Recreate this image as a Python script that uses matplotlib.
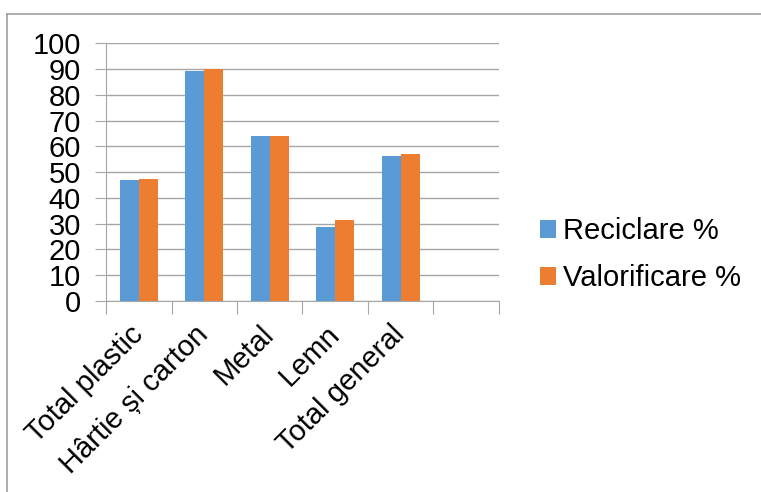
import matplotlib
matplotlib.use('Agg')
import matplotlib.pyplot as plt
import numpy as np
from matplotlib.lines import Line2D

plt.rcParams['font.family'] = ['Liberation Sans', 'DejaVu Sans']

# data
categories = ['Total plastic', 'Hârtie și carton', 'Metal', 'Lemn', 'Total general', '']
reciclare = [46.8, 89.4, 64.1, 28.9, 56.1, np.nan]
valorificare = [47.4, 89.9, 64.1, 31.5, 57.0, np.nan]
series_names = ['Reciclare %', 'Valorificare %']
y_ticks = list(range(0, 101, 10))

blue = '#5B9BD5'
orange = '#ED7D31'
grid_c = '#A6A6A6'

fig = plt.figure(figsize=(7.61, 4.92), dpi=100)
ax = fig.add_axes([0.1393, 0.3882, 0.5164, 0.5238])

x = np.arange(len(categories))
w = 0.29
ax.bar(x - w/2, reciclare, width=w, color=blue, label=series_names[0], zorder=3)
ax.bar(x + w/2, valorificare, width=w, color=orange, label=series_names[1], zorder=3)

ax.set_xlim(-0.5, len(categories) - 0.5)
ax.set_ylim(0, 100)
ax.set_yticks(y_ticks)
ax.tick_params(axis='y', labelsize=21, length=8, color=grid_c, pad=10)
ax.grid(axis='y', color=grid_c, linewidth=1, zorder=0)

# category boundaries get the tick marks, the labels sit at the centres
ax.set_xticks(np.arange(-0.5, len(categories)), labels=[''] * (len(categories) + 1))
ax.tick_params(axis='x', which='major', length=9, color=grid_c)
ax.set_xticks(x, labels=categories, minor=True)
ax.tick_params(axis='x', which='minor', length=0, labelsize=21, pad=21)
for lab in ax.get_xticklabels(minor=True):
    lab.set_rotation(45)
    lab.set_ha('right')
    lab.set_va('center')
    lab.set_rotation_mode('anchor')

for s in ['top', 'right']:
    ax.spines[s].set_visible(False)
for s in ['left', 'bottom']:
    ax.spines[s].set_color(grid_c)

ax.legend(loc='center left', bbox_to_anchor=(1.037, 0.18), frameon=False, fontsize=21,
          handlelength=0.55, handleheight=0.55, handletextpad=0.25, labelspacing=0.65)

# outer chart border (top and left only visible)
fig.add_artist(Line2D([7/761, 1], [1 - 13.5/492, 1 - 13.5/492], color='#A0A0A0', lw=1.2))
fig.add_artist(Line2D([7/761, 7/761], [0, 1 - 13.5/492], color='#A0A0A0', lw=1.2))

fig.savefig('out.png', dpi=100)
